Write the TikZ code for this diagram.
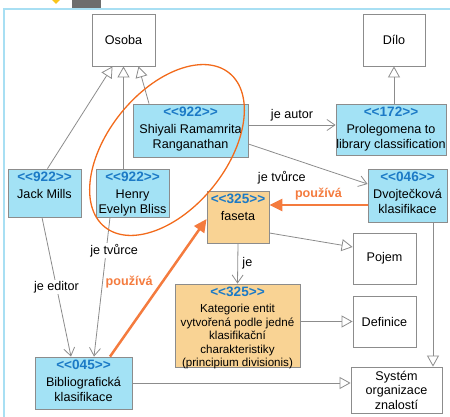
\documentclass[tikz,border=0pt]{standalone}
\usepackage{fontspec}
\setmainfont{Liberation Sans}
\usetikzlibrary{arrows.meta}
\definecolor{cyanbox}{HTML}{A3E2F5}
\definecolor{orangebox}{HTML}{F9D394}
\definecolor{boxline}{HTML}{8C8C8C}
\definecolor{stblue}{HTML}{1C7AC6}
\definecolor{usesorange}{HTML}{F47B3E}
\definecolor{ringorange}{HTML}{F26A1B}
\definecolor{framecol}{HTML}{A8DFF3}
\definecolor{topyellow}{HTML}{F9C41A}
\definecolor{topgray}{HTML}{6D6D6D}
\newcommand\st[1]{{\fontsize{13.6}{14}\selectfont\color{stblue}\bfseries <{}<#1>{}>}\\[3pt]}
\begin{document}
\begin{tikzpicture}[x=1pt,y=-1pt,
  font=\fontsize{12.6}{14.5}\selectfont,
  plain/.style={draw=boxline, line width=0.8pt, fill=white, inner sep=0pt, align=center},
  cls/.style n args={3}{draw=boxline, line width=0.8pt, fill=#1, inner sep=0pt,
    execute at begin node={\begin{minipage}[c][#3pt][t]{#2pt}\centering\vspace*{3pt}},
    execute at end node={\end{minipage}}},
  gen/.style={draw=boxline, line width=0.8pt, -{Triangle[open,length=11pt,width=12pt]}},
  rel/.style={draw=boxline, line width=0.8pt, -{Straight Barb[length=8pt,width=11pt]}},
  uses/.style={draw=usesorange, line width=2.5pt, -{Triangle[length=13pt,width=12pt]}},
  usestext/.style={text=usesorange, font=\fontsize{12.6}{14.5}\selectfont\bfseries}]
  \useasboundingbox (0,0) rectangle (450,417);
  % frame of the slide
  \fill[topyellow] (56,-8) -- (62,-2) -- (56,4) -- (50,-2) -- cycle;
  \fill[topgray] (72,0) rectangle (101,8);
  \draw[framecol, line width=1.5pt] (4,417) -- (4,9) -- (450,9);
  % classes
  \node[plain, minimum width=63, minimum height=52] (osoba) at (123.5,40) {Osoba};
  \node[plain, minimum width=62, minimum height=52] (dilo) at (394,40) {Dílo};
  \node[cls={cyanbox}{115}{53}] (shiyali) at (190.5,130.5) {\st{922}Shiyali Ramamrita\\Ranganathan};
  \node[cls={cyanbox}{110}{51}] (proleg) at (391,129.5) {\st{172}Prolegomena to\\library classification};
  \node[cls={cyanbox}{73}{48}] (jack) at (44.5,193) {\st{922}Jack Mills};
  \node[cls={cyanbox}{73}{48}] (henry) at (132.5,193) {\st{922}Henry\\Evelyn Bliss};
  \node[cls={cyanbox}{79}{53}] (dvoj) at (407.5,195.5) {\st{046}Dvojtečková\\klasifikace};
  \node[cls={orangebox}{62}{52}] (faseta) at (238,217) {\st{325}faseta};
  \node[cls={orangebox}{125}{83}, font=\fontsize{11.6}{13.5}\selectfont] (kateg) at (237.5,325.5)
    {\st{325}Kategorie entit\\vytvořená podle jedné\\klasifikační\\charakteristiky\\(principium divisionis)};
  \node[plain, minimum width=63, minimum height=51] (pojem) at (384.5,258.5) {Pojem};
  \node[plain, minimum width=63, minimum height=51] (definice) at (384.5,321.5) {Definice};
  \node[plain, minimum width=91, minimum height=46] (system) at (396.5,390) {Systém\\organizace\\znalostí};
  \node[cls={cyanbox}{97}{52}] (biblio) at (83.5,383) {\st{045}Bibliografická\\klasifikace};
  % generalisations
  \draw[gen] ([xshift=3]jack.north) -- ([xshift=-11]osoba.south);
  \draw[gen] (henry.north -| osoba.south) -- (osoba.south);
  \draw[gen] ([xshift=-41.5]shiyali.north) -- ([xshift=15]osoba.south);
  \draw[gen] (proleg.north -| dilo.south) -- (dilo.south);
  \draw[gen] ([yshift=-16]faseta.east) -- ([yshift=11.5]pojem.west);
  \draw[gen] (kateg.east |- definice.west) -- (definice.west);
  \draw[gen] ([xshift=25.5]dvoj.south) -- ([xshift=25.5]dvoj.south |- system.north);
  \draw[gen] (biblio.east) -- (biblio.east -| system.west);
  % associations
  \draw[rel] ([yshift=5.5]shiyali.east) -- node[above=0pt] {je autor} ([yshift=4.5]proleg.west);
  \draw[rel] ([yshift=-13.5]shiyali.east) -- node[pos=.28, below=12pt] {je tvůrce} ([yshift=11.5]dvoj.west);
  \draw[rel] (faseta.south) -- node[right=1pt] {je} (kateg.north);
  \draw[rel] ([xshift=-2.5]jack.south) -- node[fill=white, inner sep=1pt] {je editor} ([xshift=-12.5]biblio.north);
  \draw[rel] ([xshift=-22.5]henry.south) -- node[pos=.24, xshift=8, fill=white, inner sep=1pt] {je tvůrce} ([xshift=10.5]biblio.north);
  \draw[uses] ([yshift=-9.5]dvoj.west) -- node[usestext, above=0pt] {používá} ([yshift=12]faseta.east);
  \draw[uses] ([xshift=26.5]biblio.north) -- node[usestext, pos=.54, left=5pt] {používá} ([yshift=-2]faseta.west);
  % ring round the two authors
  \draw[ringorange, line width=1.3pt, rotate around={51:(167,150)}] (167,150) ellipse [x radius=99pt, y radius=59pt];
\end{tikzpicture}
\end{document}
